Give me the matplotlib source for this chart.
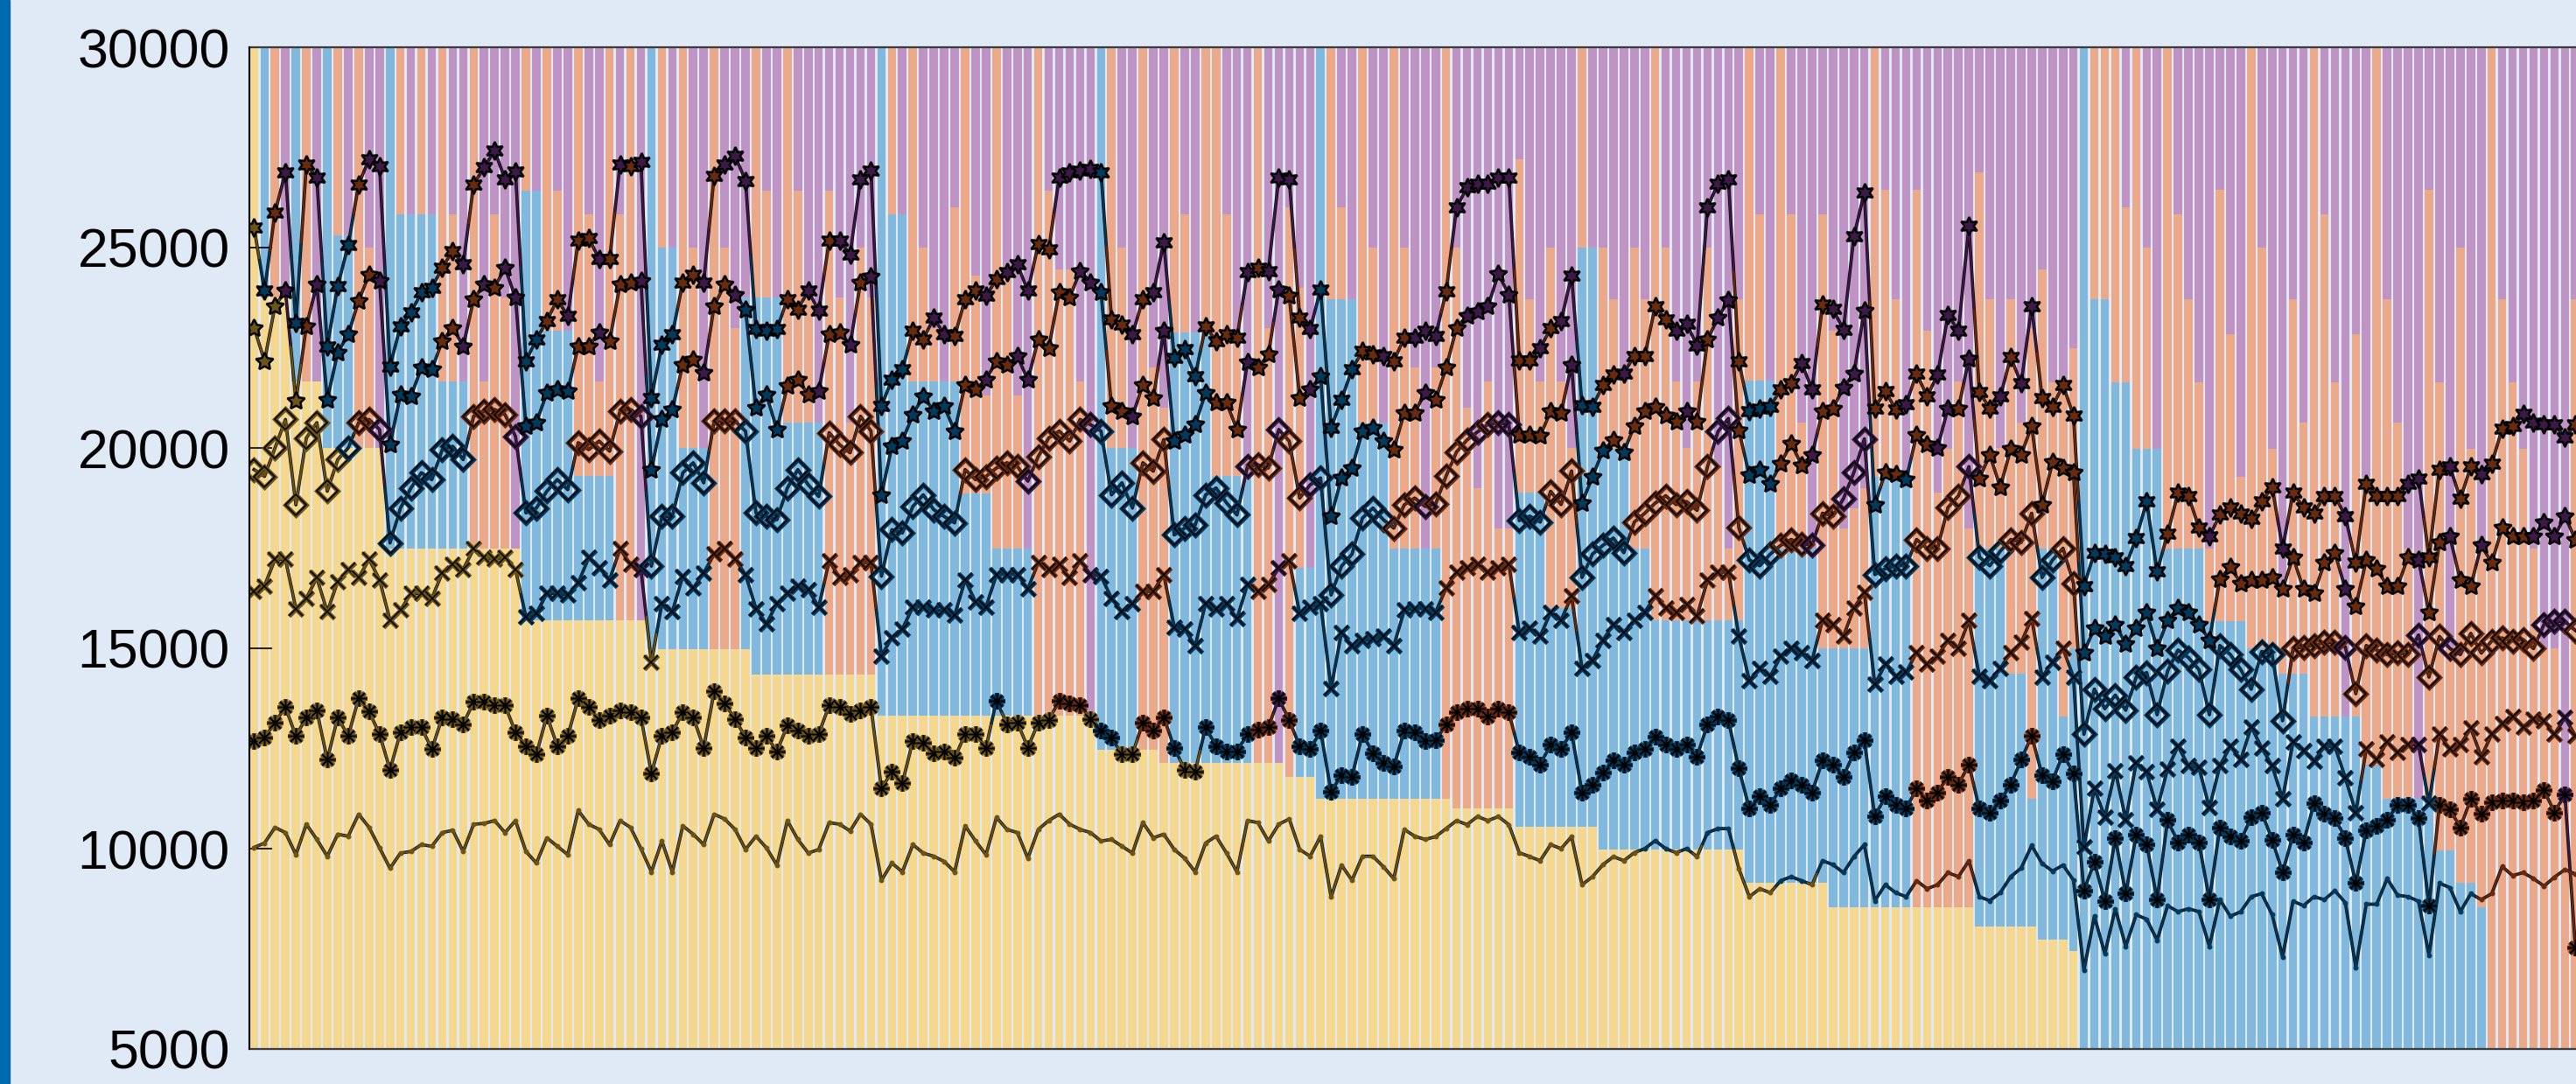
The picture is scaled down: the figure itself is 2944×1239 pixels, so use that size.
import numpy as np
import matplotlib.pyplot as plt
from matplotlib.patches import Rectangle
from matplotlib.collections import LineCollection

# stacked bar levels per bar: top of yellow, blue and salmon parts (purple fills to the top)
yel = [31000] + [23750] * 3 + [21667] * 3 + [20000] * 6 + [17500] * 13 + [15700] * 12 + \
      [14975] * 10 + [14339] * 12 + [13322] * 21 + [12475] * 6 + [12136] * 12 + [11797] * 3 + \
      [11246] * 13 + [11000] * 6 + [10540] * 8 + [9970] * 14 + [9150] * 8 + [8530] * 14 + \
      [8050] * 6 + [7730] * 3 + [7450] + [0] * 48
blu = [31000, 31000, 23750, 23750, 31000, 21667, 21667, 31000, 25300, 25300, 20000, 20000, 20000,
       31000, 25833, 25833, 25833, 25833, 21667, 21667, 21667, 17500, 17500, 17500, 17500, 17500,
       26417, 26417, 22917, 22917, 22917, 19292, 19292, 19292, 19292, 15700, 15700, 15700,
       31000, 25000, 25000, 20000, 20000, 20000, 14975, 14975, 14975, 23750,
       23750, 23750, 23750, 20625, 20625, 20625, 20625, 14339, 14339, 14339, 14339, 14339,
       31000, 25833, 25833, 21667, 21667, 21667, 21667, 21667, 18875, 18875, 18875, 17500, 17500, 17500,
       17500, 13322, 13322, 13322, 13322, 13322, 13322,
       31000, 20000, 20000, 20000, 12475, 12475,
       12136, 22875, 22875, 22875, 22875, 19292, 19292, 19292, 19292, 12136, 12136, 12136,
       11797, 17000, 17000,
       31000, 23708, 23708, 23708, 20625, 20625, 20625, 17500, 17500, 17500, 17500,
       17500, 11246, 11000, 11000, 11000, 11000, 11000, 11000,
       18879, 18879, 18879, 16000, 16000, 16000, 24993, 24993, 19971, 19971, 19971, 17497, 17497] + \
      [15700] * 9 + [21681] * 3 + [17497] * 4 + [15000] * 5 + [19280] * 4 + [8530] * 6 + \
      [17497] * 3 + [14356] * 2 + [11241, 17497, 17497, 13305, 14994, 31000] + \
      [23719] * 2 + [21645] * 2 + [19971] * 3 + [17497] * 4 + [15670] * 4 + [14994] * 3 + \
      [14356] * 3 + [13305] * 5 + [12104] * 2 + [11241] * 5 + [9965] * 2 + [9140] * 2 + [8540] + [0] * 9
sal = [31000, 31000, 31000, 23750, 31000, 31000, 21667, 31000, 31000, 25300, 31000, 25000, 20000,
       31000, 31000, 25833, 31000, 25833, 31000, 25833, 21667, 31000, 21667, 25833, 23750, 17500,
       31000, 26417, 31000, 26417, 22917, 31000, 25833, 21667, 31000, 25833, 31000, 15700,
       31000, 31000, 25000, 31000, 25000, 20000, 31000, 25000, 23000, 23750,
       31000, 26417, 23750, 31000, 26417, 23750, 20625, 26417, 23750, 20625, 25000, 23750,
       31000, 31000, 25833, 31000, 25000, 23000, 21667, 26000, 31000, 24300, 21300, 31000, 24300, 21300,
       17500, 31000, 26417, 24458, 24458, 21667, 13322,
       31000, 31000, 25000, 20000, 31000, 22000,
       21000, 31000, 25833, 22875, 31000, 31000, 25833, 22875, 19292, 31000, 23000, 12136,
       26000, 24000, 17000,
       31000, 31000, 26000, 23708, 31000, 25000, 20625, 31000, 25000, 22000, 17500,
       22000, 31000, 25000, 21000, 19000, 21667, 18000, 18000,
       27213, 23719, 21667, 25000, 21667, 20000, 31000, 24993, 24993, 23719, 21667, 24993, 23719,
       31000, 24993, 21667, 20000, 21667, 24993, 19500, 17500, 23719,
       31000, 25830, 21681, 31000, 25830, 20625, 17497, 25830, 22917, 18000, 18500, 19000,
       31000, 26448, 23719, 19280, 26448, 22917, 18879, 19971, 21667, 18000, 26885, 23719, 20000,
       23719, 20625, 23000, 24447, 21645, 21645, 22482,
       31000, 31000, 31000, 31000, 26000, 31000, 24993, 19971, 31000, 25830, 23719, 21645,
       17497, 26448, 22846, 19280, 31000, 24993, 19971, 16500, 23719, 20625, 31000, 25830,
       21645, 13305, 22846, 19280, 31000, 23719, 20625, 17497, 11241, 26448, 21645, 14994,
       24993, 19971, 17497, 31000, 23719, 21645, 19971, 17497, 14994, 14994, 11241, 23719]

# line series, one value per bar
hex_line = [25500, 23920, 25880, 26880, 23130, 27080, 26750, 22540, 24040, 25060, 26580, 27210, 27040,
            22040, 23040, 23380, 23880, 24000, 24500, 24920, 24580, 26580, 27000, 27420, 26710, 26890,
            22170, 22710, 23170, 23710, 23290, 25170, 25250, 24710, 24710, 27080, 27040, 27130,
            21250, 22580, 22830, 24130, 24330, 24130, 26790, 27080, 27290, 26670, 22960, 22920, 22960,
            23710, 23460, 23920, 23420, 25170, 25170, 24830, 26710, 26920, 21040, 21710, 21960, 22920,
            22710, 23250, 22830, 22790, 23710, 23920, 23790, 24210, 24380, 24580, 23920,
            25080, 24960, 26750, 26880, 26920, 26960, 26880, 23210, 23080, 22830, 23710, 23880, 25130,
            22250, 22460, 21790, 23040, 22670, 22830, 22750, 24380, 24500, 24420, 26750, 26710, 23250,
            22960, 23960, 20500, 21210, 21960, 22420, 22330, 22290, 22170, 22750, 22750, 22920,
            22800, 23900, 26000, 26500, 26600,
            26594, 26740, 26754, 22191, 22191, 22482, 22991, 23173, 24301, 21063, 21026, 21572, 21827,
            21863, 22300, 22300, 23537, 23210, 22919, 23101, 22555, 26012, 26594, 26703, 22155, 20917,
            20990, 21026, 21463, 21609, 22118, 21463, 23574, 23464, 22955, 25284, 26376, 20990, 21427,
            20954, 21099, 21863, 21281, 21827, 23319, 22919, 25539, 21390, 20990, 21281, 22264,
            21608, 23537, 21244, 21026, 21572, 20808, 16550, 17387, 17351, 17278, 17060, 17751, 18661,
            16914, 17860, 18879, 18806, 18006, 17787, 18333, 18515, 18370, 18224, 18661, 19024, 17496,
            18879, 18515, 18370, 18806, 18806, 18297, 17132, 19097, 18806, 18806, 18806, 19097, 19243,
            17278, 19461, 19534, 18733, 19534, 19352, 19607, 20480, 20553, 20844, 20626, 20589, 20589,
            20262, 20589]
pent_line = [23000, 22170, 23540, 23920, 21170, 23040, 24080, 21210, 22380, 22830, 23670, 24330, 24170,
             20080, 21330, 21290, 22000, 21960, 22670, 23000, 22540, 23710, 24080, 24000, 24500, 23750,
             20540, 20630, 21380, 21460, 21420, 22540, 22540, 22880, 22670, 24080, 24130, 24170,
             19460, 20710, 20960, 22080, 22210, 21880, 23540, 24080, 23830, 23460, 21000, 21330, 20460,
             21540, 21710, 21330, 21420, 22830, 22880, 22580, 24130, 24290, 18830, 20040, 20170, 20830,
             21290, 20920, 21040, 20420, 21580, 21460, 21710, 22170, 22080, 22290, 21700,
             22710, 22500, 23880, 23750, 24420, 24130, 23880, 21040, 20920, 20790, 21580, 21250, 22920,
             20170, 20330, 20580, 21380, 21130, 21130, 20460, 22130, 22000, 22330, 23960, 23790, 21250,
             21460, 21790, 18290, 19250, 19500, 20420, 20500, 20170, 19960, 20880, 20880, 21380,
             21200, 22000, 23000, 23300, 23400,
             23537, 24338, 23828, 20335, 20335, 20299, 20917, 20881, 22082, 18625, 19280, 19935, 20189,
             19898, 20553, 20917, 21026, 20808, 20662, 20917, 20662, 22700, 23246, 23683, 20444, 19316,
             19462, 19098, 19607, 20116, 19571, 19826, 20917, 20990, 21499, 21863, 23428, 18588, 19389,
             19353, 19207, 20335, 20080, 20007, 20990, 20990, 22227, 19243, 19826, 19025, 19971,
             19825, 20553, 18588, 19643, 19498, 19388,
             14900, 15500, 15300, 15600, 15100, 15500, 15900, 15000, 15700, 16000, 15900, 15600, 15200,
             16732, 17023, 16623, 16696, 16696, 16768, 16477, 17278, 16477, 16368, 17132, 17387, 16477,
             16041, 17205, 16987, 16550, 16550, 17278, 17205, 15895, 17642, 17787, 16696, 16550, 17569,
             17132, 18006, 17787, 17787, 17787, 18151, 17787, 18297, 17715]
diam_line = [19460, 19290, 20000, 20710, 18580, 20250, 20630, 18920, 19710, 20000, 20630, 20710, 20460,
             17630, 18500, 19000, 19380, 19210, 19960, 20040, 19710, 20790, 20920, 20960, 20830, 20290,
             18380, 18500, 18920, 19210, 18960, 20130, 19960, 20170, 19920, 20920, 20960, 20790,
             17050, 18290, 18290, 19380, 19630, 19130, 20670, 20670, 20670, 20420, 18380, 18290, 18210,
             19000, 19460, 19080, 18790, 20380, 20080, 19880, 20790, 20420, 16800, 17960, 17880, 18540,
             18830, 18460, 18290, 18130, 19460, 19210, 19290, 19500, 19630, 19540, 19170,
             19790, 20250, 20420, 20170, 20710, 20580, 20420, 18830, 19130, 18500, 19630, 19420, 20210,
             17830, 18000, 18080, 18830, 19000, 18630, 18330, 19540, 19580, 19500, 20460, 20170, 18750,
             19080, 19250, 16330, 17050, 17350, 18250, 18500, 18210, 18000, 18580, 18750, 18540,
             18600, 19300, 19900, 20200, 20400,
             20590, 20626, 20590, 18188, 18297, 18151, 18916, 18588, 19425, 16769, 17351, 17569, 17751,
             17387, 18151, 18370, 18625, 18806, 18588, 18661, 18443, 19534, 20408, 20735, 18006, 17205,
             17060, 17351, 17569, 17715, 17606, 17569, 18370, 18297, 18734, 19389, 20226, 16841, 16987,
             17060, 17060, 17715, 17496, 17496, 18515, 18806, 19534, 17278, 17060, 17424, 17715,
             17641, 18370, 16768, 17205, 17496, 16623,
             12855, 13981, 13493, 13831, 13456, 14281, 14394, 13343, 14431, 14957, 14769, 14469, 13343,
             15069, 14844, 14469, 13981, 14919, 14844, 13193, 14994, 15032, 15069, 15144, 15144, 15032,
             13868, 15069, 14957, 14844, 14882, 14844, 15332, 14281, 15295, 14994, 14844, 15370, 14882,
             15182, 15257, 15182, 15220, 14994, 15595, 15670, 15670, 15445]
x_line = [16420, 16560, 17220, 17220, 15990, 16250, 16760, 15910, 16670, 16970, 16760, 17220, 16710,
          15700, 15950, 16370, 16370, 16250, 16880, 17090, 16970, 17480, 17260, 17220, 17260, 16970,
          15780, 15870, 16370, 16370, 16330, 16630, 17260, 17010, 16710, 17480, 17090, 16970,
          14640, 16120, 15910, 16800, 16500, 16880, 17350, 17480, 17220, 16840, 15990, 15610, 16120,
          16370, 16540, 16460, 16030, 17180, 16760, 16840, 17140, 17140, 14810, 15270, 15480, 16030,
          16030, 15950, 15950, 15820, 16710, 16160, 16030, 16840, 16840, 16840, 16480,
          17140, 16970, 17090, 16760, 17180, 16840, 16800, 16250, 15910, 16120, 16420, 16420, 16840,
          15530, 15480, 15060, 16120, 15990, 16120, 15740, 16590, 16420, 16590, 17010, 17180, 15870,
          16030, 16120, 14000, 15400, 15060, 15190, 15230, 15310, 15060, 15950, 15990, 15990,
          15900, 16500, 16900, 17000, 17100,
          16900, 17000, 17100, 15400, 15500, 15300, 15900, 15700, 16300, 14500, 14700, 15200, 15600,
          15400, 15700, 15900, 16300, 16000, 15900, 16100, 15800, 16700, 16900, 16900, 15300, 14200,
          14500, 14300, 14800, 15000, 14900, 14700, 15700, 15600, 15300, 16000, 16400, 14100, 14600,
          14300, 14400, 14900, 14600, 14800, 15200, 15000, 15700, 14300, 14200, 14500, 14900,
          15144, 15745, 14281, 14657, 14994, 14281,
          10040, 11504, 10791, 11954, 10716, 12142, 11917, 10979, 11992, 12555, 12067, 12029, 11016,
          12067, 12555, 12217, 13043, 12517, 12067, 11241, 12667, 12442, 12180, 12555, 12555, 11767,
          10904, 12480, 12217, 12667, 12405, 12592, 12592, 11129, 12855, 12480, 12592, 13005, 12292,
          12855, 13118, 13305, 13043, 13230, 13193, 12855, 13268, 12818]
ast_line = [12690, 12770, 13150, 13530, 12810, 13280, 13450, 12220, 13280, 12810, 13750, 13420, 12860,
            11970, 12900, 13030, 13030, 12480, 13280, 13240, 13110, 13660, 13660, 13580, 13580, 12900,
            12560, 12350, 13320, 12560, 12810, 13750, 13530, 13200, 13320, 13450, 13410, 13280,
            11880, 12810, 12900, 13410, 13280, 12520, 13920, 13620, 13240, 12770, 12520, 12810, 12430,
            13070, 12940, 12810, 12860, 13580, 13530, 13370, 13450, 13530, 11500, 11920, 11630, 12690,
            12640, 12390, 12430, 12260, 12860, 12860, 12520, 13700, 13110, 13150, 12520,
            13150, 13200, 13700, 13620, 13580, 13240, 12940, 12770, 12350, 12350, 13150, 12940, 13280,
            12520, 11970, 11920, 13030, 12560, 12430, 12430, 12860, 12980, 13030, 13750, 13200, 12560,
            12480, 12940, 11420, 11840, 11800, 12860, 12390, 12140, 12050, 12940, 12900, 12690,
            12700, 13100, 13400, 13500, 13500,
            13300, 13500, 13400, 12400, 12300, 12100, 12600, 12500, 12900, 11400, 11600, 11900, 12200,
            12100, 12400, 12500, 12800, 12600, 12500, 12600, 12300, 13100, 13300, 13200, 12000, 11000,
            11300, 11100, 11500, 11700, 11600, 11400, 12200, 12100, 11800, 12400, 12700, 10800, 11300,
            11100, 11000, 11500, 11200, 11400, 11800, 11600, 12100, 11000, 10900, 11200, 11600,
            12217, 12818, 11842, 11692, 12367, 11879,
            8952, 9665, 8689, 10265, 8877, 10341, 10115, 8727, 10716, 10153, 10341, 10153, 8727,
            10528, 10303, 10190, 10791, 10904, 10228, 9402, 10341, 10153, 11129, 10866, 10754, 10265,
            9140, 10453, 10566, 10716, 11091, 11091, 10754, 8577, 11091, 10979, 10528, 11241, 10866,
            11166, 11204, 11204, 11166, 11204, 11466, 10904, 11354, 7526]
dot_line = [10030, 10140, 10530, 10400, 9850, 10610, 10230, 9810, 10360, 10310, 10860, 10530, 10020,
            9510, 9890, 9930, 10100, 10060, 10400, 10460, 9930, 10610, 10630, 10700, 10400, 10700,
            9930, 9640, 10270, 10060, 9850, 10950, 10610, 10480, 10100, 10700, 10530, 10000,
            9420, 10190, 9420, 10570, 10360, 10100, 10860, 10740, 10480, 9980, 10310, 10020, 9590,
            10700, 10230, 9890, 9980, 10650, 10610, 10440, 10860, 10610, 9210, 9640, 9420, 10100,
            9890, 9810, 9680, 9420, 10570, 10190, 9850, 10780, 10480, 10400, 9760,
            10480, 10700, 10860, 10610, 10480, 10400, 10190, 10230, 10060, 9890, 10650, 10270, 10360,
            9980, 9760, 9420, 10140, 10310, 9890, 9420, 10700, 10650, 10190, 10610, 10740, 9980,
            9810, 10310, 8790, 9590, 9210, 9810, 9810, 9550, 9250, 10480, 10310, 10230,
            10300, 10500, 10700, 10600, 10800,
            10700, 10800, 10600, 9900, 9800, 9700, 10100, 10000, 10300, 9100, 9300, 9600, 9800,
            9700, 9900, 10000, 10200, 10000, 9900, 10000, 9800, 10400, 10500, 10500, 9500, 8800,
            9000, 8900, 9200, 9300, 9200, 9100, 9700, 9600, 9400, 9800, 10100, 8700, 9100,
            8900, 8800, 9200, 9000, 9100, 9400, 9300, 9700, 8800, 8700, 8900, 9300,
            9515, 10078, 9628, 9440, 9590, 9215,
            6963, 8314, 7376, 8502, 7563, 8352, 8239, 7714, 8577, 8427, 8502, 8427, 7563,
            8727, 8314, 8427, 8802, 8877, 8352, 7301, 8689, 8577, 8802, 8727, 8952, 8652,
            7038, 8614, 8614, 9252, 8839, 8802, 8689, 7338, 9140, 9027, 8427, 8877, 8727,
            8877, 9553, 9327, 9402, 9252, 9065, 9290, 9478, 9365]

bg = '#dfeaf6'
bar_cols = ['#f5d78e', '#80b9dd', '#eba98a', '#bf94c4']
dark_cols = ['#6b5416', '#003a5e', '#6a2a0d', '#3d1849']

n = min(len(yel), len(blu), len(sal), len(hex_line), len(pent_line), len(diam_line),
        len(x_line), len(ast_line), len(dot_line))
xs = np.arange(1, n + 1)
Y = np.array(yel[:n], float)
B = np.maximum(np.array(blu[:n], float), Y)
S = np.maximum(np.array(sal[:n], float), B)
T = np.full(n, 31000.0)

fig = plt.figure(figsize=(29.44, 12.39), dpi=100, facecolor=bg)
fig.patches.append(Rectangle((0, 0), 11 / 2944, 1, transform=fig.transFigure,
                             color='#0069ad', zorder=0))
ax = fig.add_axes([285 / 2944, 40 / 1239, 1 - 285 / 2944, 1145 / 1239])
ax.set_facecolor(bg)

lows = [np.zeros(n), Y, B, S]
highs = [Y, B, S, T]
for lo, hi, c in zip(lows, highs, bar_cols):
    ax.bar(xs, hi - lo, bottom=lo, width=0.8, color=c, linewidth=0, zorder=1)


def region_colors(v):
    idx = np.where(v < Y, 0, np.where(v < B, 1, np.where(v < S, 2, 3)))
    return [dark_cols[i] for i in idx]


# pentagram / hexagram as star markers
PENT = (5, 1, 0)
HEXA = (6, 1, 0)
series = [(dot_line, '.'), (ast_line, '*'), (x_line, 'x'),
          (diam_line, 'D'), (pent_line, PENT), (hex_line, HEXA)]

for vals, mk in series:
    v = np.array(vals[:n], float)
    cols = region_colors(v)
    ax.plot(xs, v, color='k', lw=2.6, zorder=3, solid_joinstyle='round')
    segs, scol = [], []
    for i in range(n - 1):
        mx, my = (xs[i] + xs[i + 1]) / 2, (v[i] + v[i + 1]) / 2
        segs.append([(xs[i], v[i]), (mx, my)])
        scol.append(cols[i])
        segs.append([(mx, my), (xs[i + 1], v[i + 1])])
        scol.append(cols[i + 1])
    ax.add_collection(LineCollection(segs, colors=scol, linewidths=1.6, zorder=4))
    for i in range(n):
        if mk == '.':
            ax.plot(xs[i], v[i], marker='o', ms=3.2, color=cols[i], mec=cols[i], zorder=5)
        elif mk in (PENT, HEXA):
            ax.plot(xs[i], v[i], marker=mk, ms=15, mfc=cols[i], mec='k', mew=1.8, zorder=5)
        elif mk == 'D':
            ax.plot(xs[i], v[i], marker='D', ms=12.5, mfc='none', mec=cols[i], mew=3.6, zorder=5)
            ax.plot(xs[i], v[i], marker='D', ms=12.5, mfc='none', mec='k', mew=1.2, zorder=5)
        elif mk == 'x':
            ax.plot(xs[i], v[i], marker='x', ms=12, mec=cols[i], mew=3.6, zorder=5)
            ax.plot(xs[i], v[i], marker='x', ms=12, mec='k', mew=1.1, zorder=5)
        else:
            ax.plot(xs[i], v[i], marker=(8, 2, 0), ms=13, mec=cols[i], mew=3.8, zorder=5)
            ax.plot(xs[i], v[i], marker=(8, 2, 0), ms=13, mec='k', mew=1.1, zorder=5)

ax.set_xlim(0.55, 0.55 + 2659 / 11.95)
ax.set_ylim(5000, 30000)
ax.set_xticks([])
ax.set_yticks(range(5000, 30001, 5000))
ax.tick_params(axis='y', direction='in', length=19, width=1.2, pad=16,
               labelsize=45, labelfontfamily='Liberation Sans')
ax.spines['right'].set_visible(False)
ax.spines['left'].set_color('k')
ax.spines['left'].set_linewidth(1.5)
for sp in ('top', 'bottom'):
    ax.spines[sp].set_color('#3a3a3a')
    ax.spines[sp].set_linewidth(1.6)
ax.spines['left'].set_zorder(6)

fig.savefig('out.png', dpi=100, facecolor=bg)
